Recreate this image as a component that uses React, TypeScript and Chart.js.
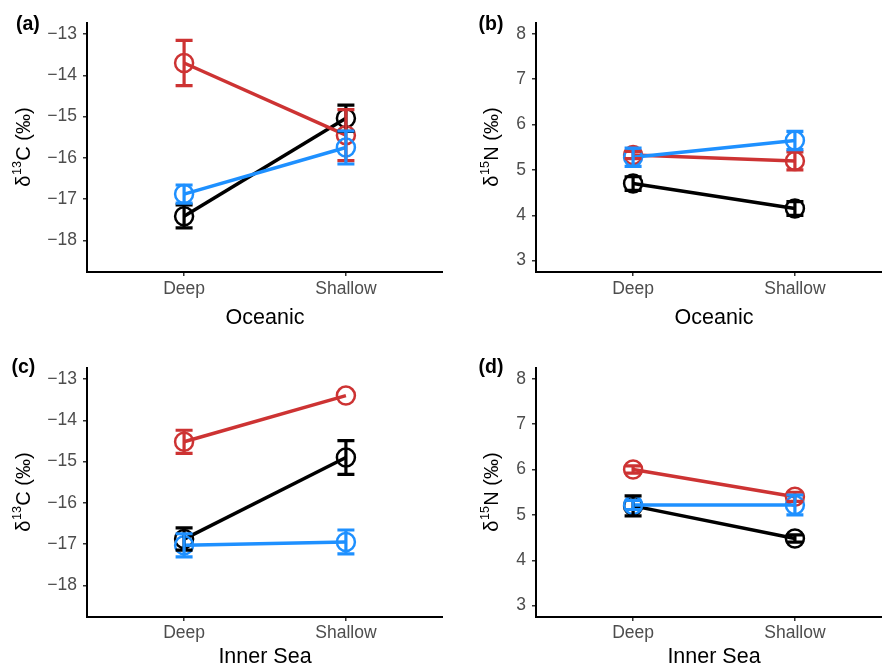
import React, { useEffect, useRef } from 'react';
import { Chart, registerables } from 'chart.js';

Chart.register(...registerables);

// ---------- data ----------
const sites = ['Deep', 'Shallow'];
const sitePositions = [1, 2];
const groupNames = ['Group 1', 'Group 2', 'Group 3'];
const groupColors = ['#000000', '#CD3333', '#1E90FF'];
const carbonTicks = [-18, -17, -16, -15, -14, -13];
const nitrogenTicks = [3, 4, 5, 6, 7, 8];

// (a) Oceanic, δ13C
const oceanicCarbonG1 = [-17.42, -15.04];
const oceanicCarbonG1Err = [0.28, 0.32];
const oceanicCarbonG2 = [-13.7, -15.45];
const oceanicCarbonG2Err = [0.55, 0.62];
const oceanicCarbonG3 = [-16.88, -15.75];
const oceanicCarbonG3Err = [0.22, 0.4];

// (b) Oceanic, δ15N
const oceanicNitrogenG1 = [4.7, 4.15];
const oceanicNitrogenG1Err = [0.15, 0.15];
const oceanicNitrogenG2 = [5.33, 5.2];
const oceanicNitrogenG2Err = [0.08, 0.2];
const oceanicNitrogenG3 = [5.28, 5.65];
const oceanicNitrogenG3Err = [0.2, 0.2];

// (c) Inner Sea, δ13C
const innerCarbonG1 = [-16.88, -14.9];
const innerCarbonG1Err = [0.27, 0.41];
const innerCarbonG2 = [-14.52, -13.4];
const innerCarbonG2Err: (number | null)[] = [0.28, null];
const innerCarbonG3 = [-17.03, -16.95];
const innerCarbonG3Err = [0.28, 0.29];

// (d) Inner Sea, δ15N
const innerNitrogenG1 = [5.2, 4.48];
const innerNitrogenG1Err = [0.22, 0.08];
const innerNitrogenG2 = [6.0, 5.4];
const innerNitrogenG2Err = [0.08, 0.1];
const innerNitrogenG3 = [5.22, 5.22];
const innerNitrogenG3Err = [0.1, 0.22];

// ---------- layout ----------
const FAMILY = '"Liberation Sans", Arial, Helvetica, sans-serif';

type Panel = {
  tag: string;
  left: number; top: number; w: number; h: number;
  areaTop: number; yW: number; xH: number;
  tagX: number; tagY: number;
  yTitleX: number;
  iso: 'C' | 'N';
  xTitle: string;
  xTitlePad: number;
  xTickPad: number;
  means: number[][];
  errs: (number | null)[][];
};

const panels: Panel[] = [
  {
    tag: '(a)', left: 0, top: 0, w: 443, h: 335, areaTop: 23, yW: 87, xH: 63,
    tagX: 16, tagY: 24.5, yTitleX: 23, iso: 'C', xTitle: 'Oceanic', xTitlePad: 4, xTickPad: 2.7,
    means: [oceanicCarbonG1, oceanicCarbonG2, oceanicCarbonG3],
    errs: [oceanicCarbonG1Err, oceanicCarbonG2Err, oceanicCarbonG3Err],
  },
  {
    tag: '(b)', left: 441, top: 0, w: 451, h: 335, areaTop: 23, yW: 95, xH: 63,
    tagX: 37.5, tagY: 24.5, yTitleX: 49.5, iso: 'N', xTitle: 'Oceanic', xTitlePad: 4, xTickPad: 2.7,
    means: [oceanicNitrogenG1, oceanicNitrogenG2, oceanicNitrogenG3],
    errs: [oceanicNitrogenG1Err, oceanicNitrogenG2Err, oceanicNitrogenG3Err],
  },
  {
    tag: '(c)', left: 0, top: 335, w: 443, h: 336, areaTop: 33, yW: 87, xH: 54,
    tagX: 11.5, tagY: 33.3, yTitleX: 23, iso: 'C', xTitle: 'Inner Sea', xTitlePad: 1.4, xTickPad: 1.8,
    means: [innerCarbonG1, innerCarbonG2, innerCarbonG3],
    errs: [innerCarbonG1Err, innerCarbonG2Err, innerCarbonG3Err],
  },
  {
    tag: '(d)', left: 441, top: 335, w: 451, h: 336, areaTop: 33, yW: 95, xH: 54,
    tagX: 37.5, tagY: 33, yTitleX: 49.5, iso: 'N', xTitle: 'Inner Sea', xTitlePad: 1.4, xTickPad: 1.8,
    means: [innerNitrogenG1, innerNitrogenG2, innerNitrogenG3],
    errs: [innerNitrogenG1Err, innerNitrogenG2Err, innerNitrogenG3Err],
  },
];

const fmtTick = (v: number) => (v < 0 ? '\u2212' + Math.abs(v) : String(v));

function makePlugin(p: Panel) {
  return {
    id: 'panelExtras' + p.tag,
    afterDatasetsDraw(chart: any) {
      const { ctx, scales } = chart;
      const xs = scales.x;
      const ys = scales.y;
      ctx.save();
      ctx.lineCap = 'butt';
      for (let g = 0; g < p.means.length; g++) {
        ctx.strokeStyle = groupColors[g];
        ctx.lineWidth = 3.2;
        for (let i = 0; i < p.means[g].length; i++) {
          const e = p.errs[g][i];
          if (e === null || e === undefined) continue;
          const px = xs.getPixelForValue(sitePositions[i]);
          const hi = ys.getPixelForValue(p.means[g][i] + e);
          const lo = ys.getPixelForValue(p.means[g][i] - e);
          ctx.beginPath();
          ctx.moveTo(px, hi);
          ctx.lineTo(px, lo);
          ctx.moveTo(px - 8.5, hi);
          ctx.lineTo(px + 8.5, hi);
          ctx.moveTo(px - 8.5, lo);
          ctx.lineTo(px + 8.5, lo);
          ctx.stroke();
        }
      }
      ctx.restore();
    },
    afterDraw(chart: any) {
      const { ctx, chartArea } = chart;
      ctx.save();
      // panel tag
      ctx.fillStyle = '#000';
      ctx.font = 'bold 19.5px ' + FAMILY;
      ctx.textAlign = 'left';
      ctx.textBaseline = 'alphabetic';
      ctx.fillText(p.tag, p.tagX, p.tagY + 5);
      // y title with superscript
      const cy = (chartArea.top + chartArea.bottom) / 2;
      ctx.translate(p.yTitleX, cy);
      ctx.rotate(-Math.PI / 2);
      const mainFont = '20px ' + FAMILY;
      const supFont = '12.5px ' + FAMILY;
      const t1 = '\u03B4';
      const sup = p.iso === 'C' ? '13' : '15';
      const t3 = p.iso + ' (\u2030)';
      ctx.font = mainFont;
      const w1 = ctx.measureText(t1).width;
      const w3 = ctx.measureText(t3).width;
      ctx.font = supFont;
      const w2 = ctx.measureText(sup).width;
      let xx = -(w1 + w2 + w3) / 2;
      const base = 7;
      ctx.font = mainFont;
      ctx.fillText(t1, xx, base);
      xx += w1;
      ctx.font = supFont;
      ctx.fillText(sup, xx + 0.5, base - 9);
      xx += w2 + 1;
      ctx.font = mainFont;
      ctx.fillText(t3, xx, base);
      ctx.restore();
    },
  };
}

function PanelChart({ p }: { p: Panel }) {
  const ref = useRef<HTMLCanvasElement | null>(null);
  useEffect(() => {
    if (!ref.current) return;
    const yTicks = p.iso === 'C' ? carbonTicks : nitrogenTicks;
    const yMin = p.iso === 'C' ? -18.77 : 2.75;
    const yMax = p.iso === 'C' ? -12.73 : 8.24;
    const datasets = p.means.map((vals, g) => ({
      label: groupNames[g],
      data: vals.map((v, i) => ({ x: sitePositions[i], y: v })),
      borderColor: groupColors[g],
      backgroundColor: groupColors[g],
      borderWidth: 3.5,
      pointRadius: 9,
      pointHoverRadius: 9,
      pointBorderWidth: 2.5,
      pointBackgroundColor: 'rgba(255,255,255,0)',
      pointBorderColor: groupColors[g],
      tension: 0,
      clip: false as any,
      order: p.means.length - 1 - g,
    }));
    const chart = new Chart(ref.current, {
      type: 'line',
      data: { datasets },
      options: {
        animation: false,
        responsive: false,
        devicePixelRatio: 1,
        events: [],
        layout: { autoPadding: false, padding: { top: p.areaTop, left: 0, right: 0, bottom: 0 } },
        plugins: { legend: { display: false }, tooltip: { enabled: false } },
        scales: {
          x: {
            type: 'linear',
            min: 0.4,
            max: 2.6,
            afterBuildTicks: (s: any) => {
              s.ticks = sitePositions.map((v) => ({ value: v }));
            },
            afterFit: (s: any) => {
              s.height = p.xH;
            },
            ticks: {
              callback: (v: any) => {
                const idx = sitePositions.indexOf(Number(v));
                return idx >= 0 ? sites[idx] : '';
              },
              font: { family: FAMILY, size: 17.5 },
              color: '#4D4D4D',
              padding: p.xTickPad,
              maxRotation: 0,
              autoSkip: false,
            },
            grid: { drawOnChartArea: false, drawTicks: true, tickLength: 4, color: '#333333', lineWidth: 1.5 },
            border: { display: true, color: '#000000', width: 2 },
            title: {
              display: true,
              text: p.xTitle,
              font: { family: FAMILY, size: 21.5 },
              color: '#000000',
              padding: { top: 0, bottom: p.xTitlePad },
            },
          },
          y: {
            type: 'linear',
            min: yMin,
            max: yMax,
            afterBuildTicks: (s: any) => {
              s.ticks = yTicks.map((v) => ({ value: v }));
            },
            afterFit: (s: any) => {
              s.width = p.yW;
            },
            ticks: {
              callback: (v: any) => fmtTick(Number(v)),
              font: { family: FAMILY, size: 17.5 },
              color: '#4D4D4D',
              padding: 6,
              autoSkip: false,
            },
            grid: { drawOnChartArea: false, drawTicks: true, tickLength: 4, color: '#333333', lineWidth: 1.5 },
            border: { display: true, color: '#000000', width: 2 },
          },
        },
      } as any,
      plugins: [makePlugin(p) as any],
    });
    return () => chart.destroy();
  }, [p]);
  return (
    <canvas
      ref={ref}
      width={p.w}
      height={p.h}
      style={{ position: 'absolute', left: p.left, top: p.top, width: p.w, height: p.h }}
    />
  );
}

export default function App() {
  return (
    <div
      style={{
        position: 'fixed',
        left: 0,
        top: 0,
        width: 882,
        height: 671,
        overflow: 'hidden',
        background: '#ffffff',
      }}
    >
      {panels.map((p) => (
        <PanelChart key={p.tag} p={p} />
      ))}
    </div>
  );
}
